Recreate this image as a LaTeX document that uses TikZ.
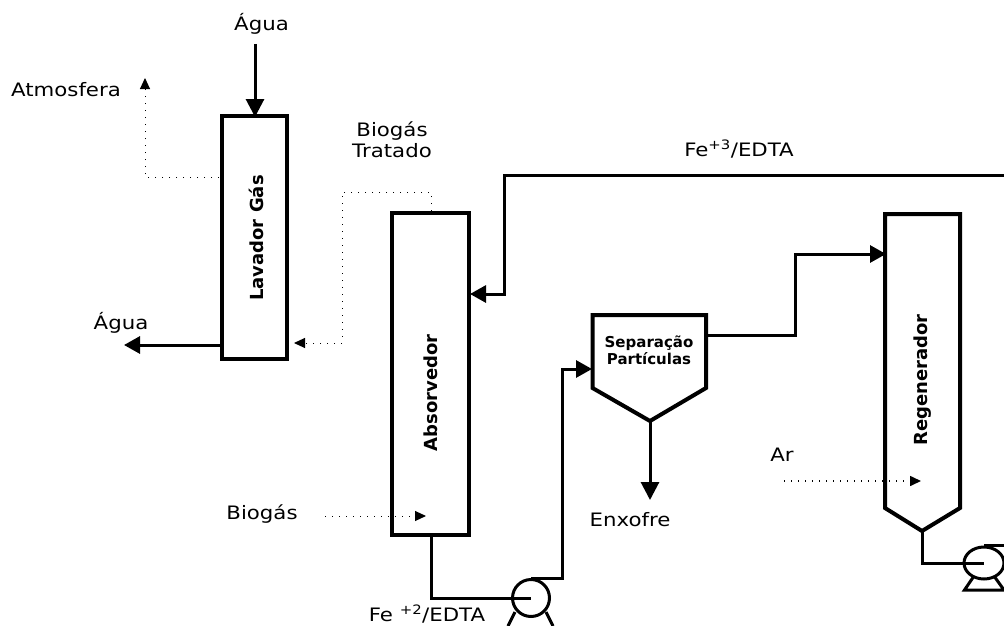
\documentclass[tikz,border=0pt]{standalone}
\usepackage{fontspec}
\setmainfont{DejaVu Sans}
\newfontfamily\widefont[FakeStretch=1.15]{DejaVu Sans}
\usetikzlibrary{arrows.meta,shapes.geometric}
\tikzset{
  x=1pt,y=-1pt,
  vessel/.style={draw=black,line width=4pt,line join=miter,fill=white},
  pipe/.style={draw=black,line width=3pt,line join=miter},
  thinpipe/.style={draw=black,line width=3pt,line join=miter},
  bigtip/.style={-{Triangle[length=18pt,width=18pt]}},
  midtip/.style={-{Triangle[length=16pt,width=17pt]}},
  gas/.style={draw=black,line width=1pt,dash pattern=on 1pt off 6pt},
  gastip/.style={-{Triangle[length=11pt,width=10pt]}},
  lbl/.style={font=\widefont\fontsize{18.5}{21}\selectfont,inner sep=0pt,align=center},
  unitlbl/.style={font=\bfseries\fontsize{18}{20}\selectfont,inner sep=0pt,rotate=90},
  smallbold/.style={font=\bfseries\fontsize{15}{17}\selectfont,inner sep=0pt,align=center},
  pumpbody/.style={draw=black,line width=3pt,fill=white},
}
\begin{document}
\begin{tikzpicture}
\useasboundingbox (0,0) rectangle (1004,626);
\clip (0,0) rectangle (1004,626);

% vessels
\node[vessel,rectangle,minimum width=65pt,minimum height=243pt,inner sep=0pt] (lav) at (254.5,237) {};
\node[vessel,rectangle,minimum width=77pt,minimum height=322pt,inner sep=0pt] (abs) at (430.5,374) {};
\draw[vessel] (592.5,315) coordinate (sepNW) -- (706,315) coordinate (sepNE) -- (706,388) -- (650,421) coordinate (sepTip) -- (592.5,388) -- cycle;
\draw[vessel] (885,214) -- (960,214) -- (960,508) -- (922,531) coordinate (regTip) -- (885,508) -- cycle;

% free ends
\coordinate (aguaIn) at (255,44);
\coordinate (aguaInEnd) at (255,117);
\coordinate (aguaOutStart) at (221,345);
\coordinate (aguaOutEnd) at (124,345);
\coordinate (atmStart) at (219,177);
\coordinate (atmCorner) at (145,177);
\coordinate (atmEnd) at (145,78);
\coordinate (bioTStart) at (431,211);
\coordinate (bioTA) at (431,192);
\coordinate (bioTB) at (342,192);
\coordinate (bioTC) at (342,343);
\coordinate (bioTEnd) at (294,343);
\coordinate (bioIn) at (325,516);
\coordinate (bioInEnd) at (426,516);
\coordinate (arIn) at (784,481);
\coordinate (arInEnd) at (921,481);
\coordinate (feRight) at (1004,175);
\coordinate (feCorner) at (504,175);
\coordinate (feDown) at (504,294);
\coordinate (absIn) at (470,294);
\coordinate (absOut) at (431,536);
\coordinate (absCorner) at (431,598);
\coordinate (sepIn) at (592,369);
\coordinate (sepCornerA) at (562,369);
\coordinate (sepOut) at (707,335);
\coordinate (sepCornerC) at (795,335);
\coordinate (sepCornerD) at (795,254);
\coordinate (regIn) at (886,254);
\coordinate (enxEnd) at (650,500);
\coordinate (pump2Out) at (1004,547);

% pumps
\draw[pumpbody] (515,612) -- (508,626) (546,612) -- (553,626);
\node[pumpbody,circle,minimum size=37pt,inner sep=0pt] (pump1) at (531,598) {};
\draw[pumpbody,line join=miter] (974,576) -- (964.5,590) -- (1004,590) (994,576) -- (1004,590);
\node[pumpbody,ellipse,minimum width=40pt,minimum height=32pt,inner sep=0pt] (pump2) at (984,563) {};

% solid lines
\draw[pipe,bigtip] (aguaIn) -- (aguaInEnd);
\draw[pipe,midtip] (aguaOutStart) -- (aguaOutEnd);
\draw[pipe,midtip] (feRight) -- (feCorner) -- (feDown) -- (absIn);
\draw[thinpipe] (absOut) -- (absCorner) -- (pump1.center);
\draw[thinpipe,midtip] (pump1.north) -| (sepCornerA) -- (sepIn);
\draw[thinpipe,midtip] (sepOut) -- (sepCornerC) -- (sepCornerD) -- (regIn);
\draw[thinpipe,bigtip] (sepTip) -- (enxEnd);
\draw[thinpipe] (regTip) |- (pump2.center);
\draw[thinpipe] (pump2.north -| pump2.center) -- (pump2.north -| pump2Out);

% dotted lines
\draw[gas,gastip] (atmStart) -- (atmCorner) -- (atmEnd);
\draw[gas,gastip] (bioTStart) -- (bioTA) -- (bioTB) -- (bioTC) -- (bioTEnd);
\draw[gas,gastip] (bioIn) -- (bioInEnd);
\draw[gas,gastip,line width=1.6pt] (arIn) -- (arInEnd);

% labels
\node[lbl] (t1) at (261.5,24) {Água};
\node[lbl] (t2) at (66,90) {Atmosfera};
\node[lbl] (t3) at (392,139.5) {Biogás\\Tratado};
\node[lbl] (t4) at (121,323) {Água};
\node[lbl] (t5) at (739,149) {Fe\textsuperscript{+3}/EDTA};
\node[lbl] (t6) at (262,514) {Biogás};
\node[lbl] (t7) at (630,520) {Enxofre};
\node[lbl,anchor=base] (t8) at (427,621) {Fe \textsuperscript{+2}/EDTA};
\node[lbl] (t9) at (782,455) {Ar};
\node[unitlbl] (u1) at (256,238) {Lavador Gás};
\node[unitlbl] (u2) at (431,393) {Absorvedor};
\node[unitlbl] (u3) at (923,380) {Regenerador};
\node[smallbold] (u4) at (649,350) {Separação\\Partículas};
\end{tikzpicture}
\end{document}
